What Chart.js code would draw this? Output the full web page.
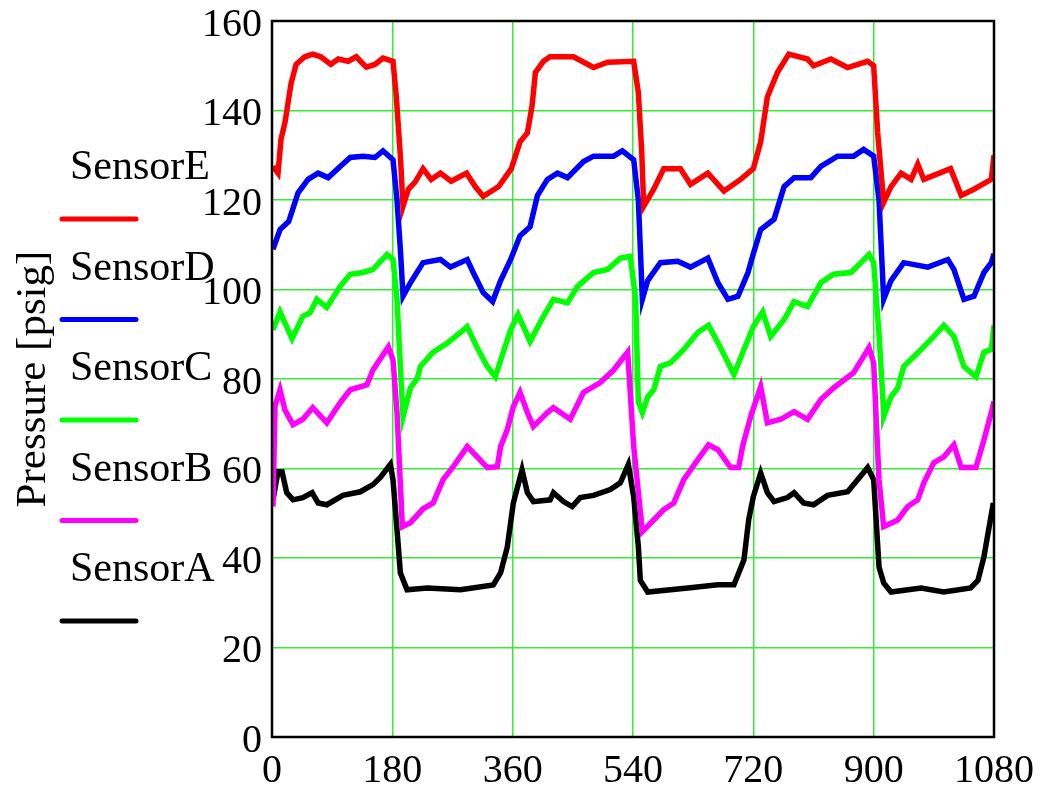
<!DOCTYPE html>
<html>
<head>
<meta charset="utf-8">
<script src="https://cdn.jsdelivr.net/npm/chart.js@4.4.1/dist/chart.umd.min.js"></script>
<style>
  body { margin: 0; background: #fff; }
  #wrap { width: 1057px; height: 796px; }
</style>
</head>
<body>
<div id="wrap"><canvas id="pressureChart"></canvas></div>
<script>
// axis ranges / tick steps
const xMin = 0, xMax = 1080, xStep = 180;
const yMin = 0, yMax = 160, yStep = 20;

// SensorE (red)
const sensorE_t = [1.5, 9, 13.5, 19.5, 28.5, 36, 49, 61, 73, 88, 99, 114, 126, 141, 154, 166, 181, 186, 192, 196, 204, 214, 226, 238, 252, 268, 291, 304, 316, 339, 358, 371, 382, 389, 394, 406, 416, 451, 481, 502, 541, 548, 553, 556, 571, 586, 611, 626, 652, 676, 701, 720, 731, 741, 756, 773, 801, 810, 836, 861, 891, 900, 906, 915, 926, 941, 956, 966, 975, 1015, 1031, 1050, 1076, 1080];
const sensorE_p = [127.5, 126, 133.6, 137.4, 146, 150.3, 152, 152.6, 152, 150.3, 151.5, 151, 152, 149.7, 150.3, 151.7, 151, 143, 129.8, 118.6, 122.4, 124, 127, 124.6, 126, 124.2, 126, 123, 120.8, 123, 127, 133, 135, 141, 148.5, 151, 152, 152, 149.6, 150.8, 151, 144, 131, 118.6, 122.4, 127, 127, 123.5, 126, 122, 124.6, 127, 133, 143, 148.5, 152.6, 151.5, 150, 151.5, 149.6, 151, 150, 135, 119.5, 123, 126, 124.6, 128, 124.6, 127, 121, 122.4, 124.6, 130];

// SensorD (blue)
const sensorD_t = [1.5, 12, 25, 39, 54, 69, 84, 102, 117, 136, 154, 166, 181, 187, 192, 196, 207, 226, 252, 267, 292, 301, 316, 330, 342, 357, 371, 386, 397, 412, 427, 442, 466, 481, 511, 524, 541, 548, 554, 562, 581, 607, 626, 652, 667, 682, 697, 712, 720, 731, 751, 766, 781, 806, 821, 846, 870, 885, 900, 908, 915, 926, 945, 981, 1011, 1020, 1035, 1050, 1065, 1076, 1080];
const sensorD_p = [109, 113.4, 115.2, 121.6, 124.6, 126, 125, 127.5, 129.5, 129.8, 129.5, 131, 129, 120, 109, 98.5, 101.5, 106, 106.7, 105, 106.7, 103.8, 99.3, 97.3, 102, 106.7, 112, 114, 121, 124.6, 126, 125, 128.6, 129.8, 129.8, 131, 129, 120, 97.8, 102, 106, 106.3, 105, 107, 101.5, 97.8, 98.5, 103.8, 108, 113.4, 115.7, 123, 125, 125, 127.5, 129.8, 129.8, 131.3, 129.8, 120, 97.8, 102, 106, 105, 106.7, 104.5, 97.8, 98.5, 103.8, 106, 108];

// SensorC (green)
const sensorC_t = [1.5, 12, 30, 46, 57, 67, 82, 102, 117, 136, 151, 172, 181, 187, 192, 196, 207, 217, 222, 241, 262, 282, 292, 307, 322, 334, 346, 357, 368, 386, 406, 421, 442, 457, 481, 502, 521, 536, 544, 548, 554, 562, 571, 581, 596, 616, 637, 653, 671, 691, 706, 720, 734, 746, 766, 781, 801, 821, 840, 866, 881, 893, 900, 908, 914, 915, 926, 936, 945, 971, 990, 1005, 1020, 1035, 1053, 1065, 1076, 1080];
const sensorC_p = [91, 95, 89, 94, 94.8, 97.8, 96, 100.7, 103.4, 103.8, 104.5, 107.8, 106.7, 97.8, 82.8, 71.6, 78, 80, 82.8, 86, 88, 90.4, 91.7, 87, 82.8, 80.5, 86, 91, 94.4, 88.4, 94, 97.8, 97, 100.7, 103.8, 104.5, 107, 107.4, 97.8, 75, 72.5, 76, 77.6, 82.8, 83.6, 86.6, 90.4, 92, 87, 81, 86.6, 91.7, 95, 89.5, 93.3, 97.3, 96.2, 101.5, 103.4, 103.8, 106, 107.8, 106, 90, 75, 71.6, 76, 78, 82.8, 86.6, 89.5, 92, 89.5, 82.8, 80.5, 86, 86.6, 92];

// SensorB (magenta)
const sensorB_t = [1.5, 4.5, 12, 19.5, 31.5, 46, 61, 82, 102, 117, 142, 151, 174, 181, 187, 195, 207, 226, 241, 256, 271, 292, 307, 322, 337, 342, 352, 361, 371, 382, 391, 412, 421, 446, 466, 491, 511, 532, 541, 554, 571, 586, 601, 616, 637, 653, 667, 686, 698, 704, 716, 731, 741, 761, 781, 801, 821, 840, 870, 893, 900, 908, 915, 936, 951, 966, 975, 990, 1005, 1020, 1031, 1053, 1065, 1076, 1080];
const sensorB_p = [51.5, 74, 77.6, 73, 69.8, 71, 73.6, 70.2, 74.7, 77.6, 78.7, 82, 87.2, 84.3, 72.5, 47, 47.9, 51, 52.3, 57.5, 60.4, 64.9, 62.6, 60.2, 60.4, 64.9, 68.7, 73.8, 77, 72.5, 69.4, 72.5, 73.6, 71, 77, 79.2, 82, 86, 65, 45.9, 48.5, 50.8, 52.3, 57.5, 62, 65.3, 64.2, 60.2, 60.2, 65, 71.6, 78.3, 70.2, 71, 72.7, 71, 75.4, 78, 81.4, 87, 83.6, 57.5, 47, 48.5, 51.5, 53, 56.8, 61.3, 62.6, 65.3, 60.2, 60.2, 66.4, 72.5, 75];

// SensorA (black)
const sensorA_t = [1.5, 9, 15, 22, 31.5, 46, 60, 69, 82, 106, 132, 151, 162, 177, 181, 187, 192, 202, 232, 282, 331, 342, 352, 361, 374, 382, 391, 416, 421, 436, 449, 461, 481, 506, 521, 533, 541, 548, 551, 562, 622, 667, 691, 706, 713, 720, 731, 741, 751, 771, 781, 795, 810, 831, 861, 876, 891, 900, 908, 915, 926, 971, 1005, 1045, 1056, 1065, 1072, 1079];
const sensorA_p = [53, 59.3, 59.3, 54.6, 53, 53.5, 54.6, 52.3, 51.9, 54, 54.8, 56.4, 58, 60.9, 57.5, 46.3, 36.7, 32.9, 33.3, 32.9, 34, 36.7, 42.5, 52.3, 59.7, 54.6, 52.6, 53, 54.6, 52.6, 51.5, 53.5, 54, 55.3, 56.8, 60.9, 53.7, 42.5, 35, 32.4, 33.3, 34, 34, 39.6, 48.5, 53.7, 59, 54.6, 52.6, 53.5, 54.6, 52.3, 51.9, 54, 54.8, 57.5, 60.2, 57.5, 38, 34.4, 32.4, 33.3, 32.4, 33.3, 35, 40.3, 46.3, 52.3];

const seriesNames = ['SensorE', 'SensorD', 'SensorC', 'SensorB', 'SensorA'];
const seriesColors = ['#ff0000', '#0000ff', '#00ff00', '#ff00ff', '#000000'];
const seriesT = [sensorE_t, sensorD_t, sensorC_t, sensorB_t, sensorA_t];
const seriesP = [sensorE_p, sensorD_p, sensorC_p, sensorB_p, sensorA_p];

const FONT = '"Liberation Serif", "Times New Roman", serif';
const GRID = '#33ee33';

function pts(ts, ps) {
    return ts.map((t, i) => ({ x: t, y: ps[i] }));
}

const datasets = seriesNames.map((name, i) => ({
    label: name,
    data: pts(seriesT[i], seriesP[i]),
    borderColor: seriesColors[i],
    backgroundColor: seriesColors[i],
    borderWidth: 5.5,
    pointRadius: 0,
    tension: 0,
    fill: false
}));

// frame around the plot plus the hand-placed legend on the left
const framePlugin = {
    id: 'frame',
    afterDraw(chart) {
        const { ctx, chartArea: a } = chart;
        ctx.save();
        ctx.strokeStyle = '#000';
        ctx.lineWidth = 2.5;
        ctx.strokeRect(a.left, a.top, a.right - a.left, a.bottom - a.top);

        ctx.font = '42px ' + FONT;
        ctx.textBaseline = 'middle';
        ctx.textAlign = 'left';
        chart.data.datasets.forEach((ds, i) => {
            const ty = 168 + i * 100.5;
            ctx.fillStyle = '#000';
            ctx.fillText(ds.label, 70, ty);
            ctx.strokeStyle = ds.borderColor;
            ctx.lineWidth = 5;
            ctx.lineCap = 'round';
            ctx.beginPath();
            ctx.moveTo(62, ty + 51);
            ctx.lineTo(136, ty + 51);
            ctx.stroke();
        });
        ctx.restore();
    }
};

const ctx = document.getElementById('pressureChart').getContext('2d');
new Chart(ctx, {
    type: 'line',
    data: { datasets: datasets },
    options: {
        responsive: true,
        maintainAspectRatio: false,
        animation: false,
        layout: { padding: { left: 8, right: 63, top: 21, bottom: 0 } },
        plugins: {
            legend: { display: false },
            tooltip: { enabled: false }
        },
        scales: {
            x: {
                type: 'linear',
                min: xMin,
                max: xMax,
                afterFit: (s) => { s.height = 59; s.paddingLeft = 0; s.paddingRight = 0; },
                grid: { color: GRID, lineWidth: 1.5, drawTicks: false },
                border: { display: false },
                ticks: {
                    stepSize: xStep,
                    color: '#000',
                    padding: 10,
                    maxRotation: 0,
                    autoSkip: false,
                    callback: (v) => String(v),
                    font: { family: FONT, size: 40 }
                }
            },
            y: {
                min: yMin,
                max: yMax,
                afterFit: (s) => { s.width = 264; s.paddingTop = 0; s.paddingBottom = 0; },
                grid: { color: GRID, lineWidth: 1.5, drawTicks: false },
                border: { display: false },
                title: {
                    display: true,
                    text: 'Pressure [psig]',
                    color: '#000',
                    padding: 0,
                    font: { family: FONT, size: 43 }
                },
                ticks: {
                    stepSize: yStep,
                    color: '#000',
                    padding: 10,
                    labelOffset: 4,
                    autoSkip: false,
                    callback: (v) => String(v),
                    font: { family: FONT, size: 40 }
                }
            }
        }
    },
    plugins: [framePlugin]
});
</script>
</body>
</html>
